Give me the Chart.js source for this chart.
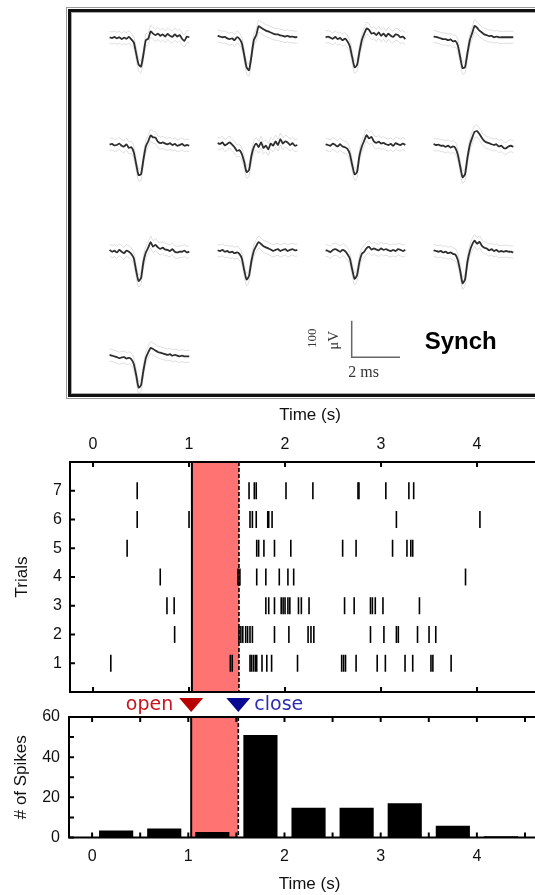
<!DOCTYPE html>
<html>
<head>
<meta charset="utf-8">
<script src="https://cdn.jsdelivr.net/npm/chart.js@4.4.0/dist/chart.umd.min.js"></script>
<style>
  html, body { margin: 0; padding: 0; background: #fff; }
  body { width: 535px; height: 895px; position: relative; overflow: hidden; }
  canvas { position: absolute; left: 0; }
  #box-outer { position: absolute; left: 66px; top: 7px; width: 520px; height: 390px; border: 1px solid #999; }
  #box-inner { position: absolute; left: 1px; top: 1px; right: 1px; bottom: 1px; border: 3.5px solid #111; box-shadow: inset 0 0 0 1px #aaa; }
</style>
</head>
<body>
<div id="box-outer"><div id="box-inner"></div></div>
<canvas id="waves" width="535" height="400" style="top:0"></canvas>
<canvas id="raster" width="550" height="300" style="top:400px"></canvas>
<canvas id="hist" width="550" height="205" style="top:690px"></canvas>
<script>
// ---- data ----
// mean spike waveforms (uV, 0.1 ms per sample), row by row
const wave1 = [2,0,3,-1,2,-3,1,-2,3,-4,-12,-42,-72,-78,-45,-6,-2,18,12,8,12,6,10,4,11,6,3,10,4,8,-2,-8,4,2];
const wave2 = [6,4,2,3,-1,-3,-1,-6,2,-2,-14,-46,-80,-88,-50,-6,8,32,28,24,20,18,15,12,10,10,7,6,4,6,3,4,2,3];
const wave3 = [2,4,1,-2,3,-3,0,-6,-2,-9,-22,-52,-80,-74,-38,-6,12,26,22,12,14,8,15,6,12,4,12,6,3,10,8,2,4,-3];
const wave4 = [4,3,1,-1,-3,-3,-6,-4,-9,-8,-20,-52,-82,-80,-42,-6,14,33,28,20,15,10,8,5,6,2,4,2,2,2,2,2,2,2];
const wave5 = [1,3,-1,0,4,-2,-4,2,-8,-6,-20,-52,-82,-80,-40,-4,10,26,21,20,9,5,7,4,2,5,0,3,-2,0,3,-2,0,-2];
const wave6 = [5,3,7,-1,3,7,1,-6,-16,-14,-24,-46,-74,-68,-30,-6,4,-6,8,-8,-2,-12,4,-2,10,0,16,4,10,7,0,5,-2,0];
const wave7 = [2,0,-2,4,0,-4,2,-4,-6,-10,-24,-54,-80,-74,-30,-4,12,27,18,22,10,6,9,4,6,2,0,3,-2,5,2,0,4,0];
const wave8 = [3,0,1,-2,-2,-5,-2,-7,-4,-8,-26,-58,-88,-80,-36,0,20,36,38,30,19,11,7,5,2,0,2,-4,-2,-8,-9,-4,-2,-5];
const wave9 = [3,-2,1,-4,3,-2,-6,1,-2,-8,-20,-54,-82,-74,-30,-4,9,24,12,17,10,6,9,4,3,0,5,-2,-4,-2,-2,1,-4,-2];
const wave10 = [2,0,3,-2,0,-4,-2,-6,-4,-8,-20,-52,-78,-68,-28,0,14,24,19,13,10,7,4,0,3,5,0,3,5,0,3,5,2,3];
const wave11 = [2,0,-3,3,5,2,-2,3,0,-8,-20,-50,-76,-66,-30,-8,-2,8,11,4,7,4,2,7,3,5,2,0,3,0,5,3,0,3];
const wave12 = [2,0,-2,0,-4,-2,-6,-4,-8,-10,-24,-54,-88,-78,-30,0,18,28,20,25,14,9,7,2,5,0,3,-2,0,-2,0,-2,-2,-4];
const wave13 = [3,1,-1,-3,-6,-4,-3,-7,-5,-9,-22,-52,-86,-80,-40,-6,10,22,19,15,11,9,7,5,3,5,1,3,1,-1,1,-1,-1,-1];
const waveforms = [wave1, wave2, wave3, wave4, wave5, wave6, wave7, wave8, wave9, wave10, wave11, wave12, wave13];
const sampleMs = 0.1;
const scaleBarMs = 2;
const scaleBarUv = 100;

// spike times (s) per trial
const trial1 = [0.185, 1.43, 1.45, 1.635, 1.65, 1.67, 1.69, 1.705, 1.76, 1.81, 1.86, 2.13, 2.59, 2.61, 2.63, 2.74, 2.96, 3.045, 3.25, 3.33, 3.52, 3.54, 3.73];
const trial2 = [0.85, 1.52, 1.54, 1.56, 1.59, 1.61, 1.635, 1.66, 1.89, 2.04, 2.24, 2.27, 2.30, 2.89, 3.03, 3.16, 3.18, 3.38, 3.50, 3.57];
const trial3 = [0.77, 0.845, 1.80, 1.83, 1.89, 1.96, 1.98, 2.00, 2.03, 2.05, 2.14, 2.17, 2.25, 2.62, 2.72, 2.89, 2.91, 2.94, 3.02, 3.40];
const trial4 = [0.70, 1.51, 1.53, 1.705, 1.80, 1.94, 2.03, 2.09, 3.88];
const trial5 = [0.355, 1.705, 1.725, 1.78, 1.89, 2.06, 2.60, 2.74, 3.12, 3.27, 3.31, 3.33];
const trial6 = [0.46, 1.00, 1.635, 1.66, 1.70, 1.82, 1.83, 1.865, 3.16, 4.03];
const trial7 = [0.46, 1.625, 1.68, 1.70, 2.01, 2.29, 2.76, 2.77, 3.05, 3.29, 3.34];
const trials = [trial1, trial2, trial3, trial4, trial5, trial6, trial7];

// spike counts per 0.5 s bin
const binCenters = [0.25, 0.75, 1.25, 1.75, 2.25, 2.75, 3.25, 3.75, 4.25];
const spikeCounts = [3.5, 4.5, 2.8, 51, 14.8, 14.8, 17, 5.8, 0.6];

// stimulus window (s)
const openTime = 1.03;
const closeTime = 1.52;

// ticks
const timeTicks = [0, 1, 2, 3, 4];
const timeMinorTicks = [0.5, 1.5, 2.5, 3.5, 4.5];
const trialTicks = [1, 2, 3, 4, 5, 6, 7];
const countTicks = [0, 20, 40, 60];
const countMinorTicks = [10, 30, 50];

// ---- layout / style ----
const SANS = "'Liberation Sans', Arial, sans-serif";
const SERIF = "'Liberation Serif', 'Times New Roman', serif";
const PX_PER_MS = 24.15;
const PX_PER_UV = 0.366;
const colStartPx = [109.6, 217.6, 325.6, 433.6];
const rowBasePx = [38, 145, 251, 356];
const barCornerPx = { x: 351.7, y: 357.3 };
const stimRed = '#ff7373';

// ---- waveform panel ----
const waveDatasets = [];
waveforms.forEach((w, k) => {
  const r = Math.floor(k / 4), c = k % 4;
  const x0 = colStartPx[c] / PX_PER_MS;
  const y0 = -rowBasePx[r] / PX_PER_UV;
  const pts = w.map((v, i) => ({ x: x0 + i * sampleMs, y: y0 + v }));
  // faint +/- SD envelope drawn as shifted copies
  [-6, 6].forEach(s => waveDatasets.push({
    data: pts, shiftPx: s, borderColor: 'rgba(0,0,0,0.13)', borderWidth: 1,
    pointRadius: 0, tension: 0.3
  }));
  waveDatasets.push({
    data: pts, borderColor: '#2e2e2e', borderWidth: 1.8,
    pointRadius: 0, tension: 0.2, borderJoinStyle: 'round'
  });
});
const bx = barCornerPx.x / PX_PER_MS, by = -barCornerPx.y / PX_PER_UV;
waveDatasets.push({
  data: [{ x: bx, y: by + scaleBarUv }, { x: bx, y: by }, { x: bx + scaleBarMs, y: by }],
  borderColor: '#666', borderWidth: 1.5, pointRadius: 0, tension: 0
});

const shiftPlugin = {
  id: 'shift',
  beforeDatasetDraw(chart, args) {
    const s = chart.data.datasets[args.index].shiftPx;
    chart.ctx.save();
    if (s) chart.ctx.translate(0, s);
  },
  afterDatasetDraw(chart) { chart.ctx.restore(); }
};

const waveLabels = {
  id: 'waveLabels',
  afterDraw(chart) {
    const { ctx, scales: { x, y } } = chart;
    const cx = x.getPixelForValue(bx), cy = y.getPixelForValue(by);
    ctx.save();
    ctx.fillStyle = '#333';
    ctx.textAlign = 'center';
    ctx.textBaseline = 'middle';
    ctx.save();
    ctx.translate(cx - 39, cy - 19);
    ctx.rotate(-Math.PI / 2);
    ctx.font = '13px ' + SERIF;
    ctx.fillText('100', 0, 0);
    ctx.restore();
    ctx.save();
    ctx.translate(cx - 18, cy - 17);
    ctx.rotate(-Math.PI / 2);
    ctx.font = '15px ' + SERIF;
    ctx.fillText('\u03bcV', 0, 0);
    ctx.restore();
    ctx.font = '16px ' + SERIF;
    ctx.fillText('2 ms', cx + 12, cy + 15);
    ctx.fillStyle = '#000';
    ctx.textAlign = 'left';
    ctx.textBaseline = 'alphabetic';
    ctx.font = 'bold 24px ' + SANS;
    ctx.fillText('Synch', cx + 73, cy - 8);
    ctx.restore();
  }
};

new Chart(document.getElementById('waves'), {
  type: 'line',
  data: { datasets: waveDatasets },
  options: {
    responsive: false, animation: false, events: [], devicePixelRatio: 1,
    layout: { padding: 0, autoPadding: false },
    plugins: { legend: { display: false }, tooltip: { enabled: false } },
    scales: {
      x: { type: 'linear', display: false, min: 0, max: 535 / PX_PER_MS },
      y: { type: 'linear', display: false, min: -400 / PX_PER_UV, max: 0 }
    }
  },
  plugins: [shiftPlugin, waveLabels]
});

// ---- shared helpers for the two time panels ----
function drawStimWindow(chart) {
  const { ctx, chartArea: a, scales: { x } } = chart;
  const x0 = x.getPixelForValue(openTime), x1 = x.getPixelForValue(closeTime);
  ctx.save();
  ctx.fillStyle = stimRed;
  ctx.fillRect(x0, a.top, x1 - x0, a.bottom - a.top);
  ctx.restore();
}
function drawStimLines(chart) {
  const { ctx, chartArea: a, scales: { x } } = chart;
  const x0 = x.getPixelForValue(openTime), x1 = x.getPixelForValue(closeTime);
  ctx.save();
  ctx.strokeStyle = '#000';
  ctx.lineWidth = 2;
  ctx.beginPath(); ctx.moveTo(x0, a.top); ctx.lineTo(x0, a.bottom); ctx.stroke();
  ctx.lineWidth = 1.6;
  ctx.setLineDash([4, 2]);
  ctx.beginPath(); ctx.moveTo(x1, a.top); ctx.lineTo(x1, a.bottom); ctx.stroke();
  ctx.restore();
}
function drawFrameAndTicks(chart, xVals, yVals, len) {
  const { ctx, chartArea: a, scales: { x, y } } = chart;
  ctx.save();
  ctx.strokeStyle = '#000';
  ctx.lineWidth = 2;
  ctx.strokeRect(a.left, a.top, a.right - a.left, a.bottom - a.top);
  ctx.beginPath();
  xVals.forEach(v => {
    const px = x.getPixelForValue(v);
    ctx.moveTo(px, a.top); ctx.lineTo(px, a.top + len);
    ctx.moveTo(px, a.bottom); ctx.lineTo(px, a.bottom - len);
  });
  yVals.forEach(v => {
    const py = y.getPixelForValue(v);
    ctx.moveTo(a.left, py); ctx.lineTo(a.left + len, py);
  });
  ctx.stroke();
  ctx.restore();
}
// fixed box sizes so the plot areas line up with the figure
function fixBox(w, h) {
  return s => {
    if (w !== null) s.width = w;
    if (h !== null) s.height = h;
    s.paddingTop = 0; s.paddingBottom = 0; s.paddingLeft = 0; s.paddingRight = 0;
  };
}
const tickFont = { family: SANS, size: 16 };
const titleFont = { family: SANS, size: 17 };

// ---- raster ----
const rasterPlugin = {
  id: 'rasterDeco',
  beforeDatasetsDraw(chart) { drawStimWindow(chart); },
  afterDatasetsDraw(chart) {
    drawStimLines(chart);
    drawFrameAndTicks(chart, timeTicks, trialTicks, 5);
  }
};

new Chart(document.getElementById('raster'), {
  type: 'scatter',
  data: {
    datasets: trials.map((t, i) => ({
      data: t.map(s => ({ x: s, y: i + 1 })),
      pointStyle: 'line', pointRotation: 90, pointRadius: 8.5,
      pointBorderWidth: 1.6, pointBorderColor: '#000', pointBackgroundColor: '#000'
    }))
  },
  options: {
    responsive: false, animation: false, events: [], devicePixelRatio: 1,
    layout: { padding: { top: 0, bottom: 8, right: 0, left: 0 }, autoPadding: false },
    plugins: { legend: { display: false }, tooltip: { enabled: false } },
    scales: {
      x: {
        type: 'linear', position: 'top', min: -0.24, max: 4.76,
        afterBuildTicks: s => { s.ticks = timeTicks.map(v => ({ value: v })); },
        afterFit: fixBox(null, 62),
        grid: { display: false, drawTicks: false }, border: { display: false },
        ticks: { font: tickFont, color: '#111', padding: 8, maxRotation: 0 },
        title: { display: true, text: 'Time (s)', font: titleFont, color: '#111', padding: { top: 5, bottom: 0 } }
      },
      y: {
        type: 'linear', min: 0, max: 8,
        afterBuildTicks: s => { s.ticks = trialTicks.map(v => ({ value: v })); },
        afterFit: fixBox(70, null),
        grid: { display: false, drawTicks: false }, border: { display: false },
        ticks: { font: tickFont, color: '#111', padding: 8 },
        title: { display: true, text: 'Trials', font: titleFont, color: '#111', padding: { top: 12, bottom: 0 } }
      }
    }
  },
  plugins: [rasterPlugin]
});

// ---- histogram ----
const histPlugin = {
  id: 'histDeco',
  beforeDatasetsDraw(chart) { drawStimWindow(chart); },
  afterDatasetsDraw(chart) {
    drawStimLines(chart);
    drawFrameAndTicks(chart, timeTicks.concat(timeMinorTicks), countTicks.concat(countMinorTicks), 5);
  },
  afterDraw(chart) {
    const { ctx, chartArea: a, scales: { x } } = chart;
    const xo = x.getPixelForValue(openTime), xc = x.getPixelForValue(closeTime);
    const top = a.top - 19, tip = a.top - 5, hw = 12;
    ctx.save();
    ctx.fillStyle = '#b80000';
    ctx.beginPath(); ctx.moveTo(xo - hw, top); ctx.lineTo(xo + hw, top); ctx.lineTo(xo, tip); ctx.closePath(); ctx.fill();
    ctx.fillStyle = '#0a0a90';
    ctx.beginPath(); ctx.moveTo(xc - hw, top); ctx.lineTo(xc + hw, top); ctx.lineTo(xc, tip); ctx.closePath(); ctx.fill();
    ctx.font = "19px 'DejaVu Sans', Verdana, sans-serif";
    ctx.textBaseline = 'alphabetic';
    ctx.textAlign = 'right';
    ctx.fillStyle = '#c8141e';
    ctx.fillText('open', xo - hw - 6, a.top - 7);
    ctx.textAlign = 'left';
    ctx.fillStyle = '#2c2cb4';
    ctx.fillText('close', xc + hw + 4, a.top - 7);
    ctx.restore();
  }
};

new Chart(document.getElementById('hist'), {
  type: 'bar',
  data: {
    datasets: [{
      data: binCenters.map((c, i) => ({ x: c, y: spikeCounts[i] })),
      backgroundColor: '#000', borderWidth: 0,
      barPercentage: 0.71, categoryPercentage: 1
    }]
  },
  options: {
    responsive: false, animation: false, events: [], devicePixelRatio: 1,
    layout: { padding: { top: 27, bottom: 0, right: 0, left: 0 }, autoPadding: false },
    plugins: { legend: { display: false }, tooltip: { enabled: false } },
    scales: {
      x: {
        type: 'linear', min: -0.24, max: 4.76, offset: false,
        afterBuildTicks: s => { s.ticks = timeTicks.map(v => ({ value: v })); },
        afterFit: fixBox(null, 57.5),
        grid: { display: false, drawTicks: false }, border: { display: false },
        ticks: { font: tickFont, color: '#111', padding: 9, maxRotation: 0 },
        title: { display: true, text: 'Time (s)', font: titleFont, color: '#111', padding: { top: 2, bottom: 0 } }
      },
      y: {
        type: 'linear', min: 0, max: 60,
        afterBuildTicks: s => { s.ticks = countTicks.map(v => ({ value: v })); },
        afterFit: fixBox(69, null),
        grid: { display: false, drawTicks: false }, border: { display: false },
        ticks: { font: tickFont, color: '#111', padding: 9 },
        title: { display: true, text: '# of Spikes', font: titleFont, color: '#111', padding: { top: 11, bottom: 0 } }
      }
    }
  },
  plugins: [histPlugin]
});
</script>
</body>
</html>
